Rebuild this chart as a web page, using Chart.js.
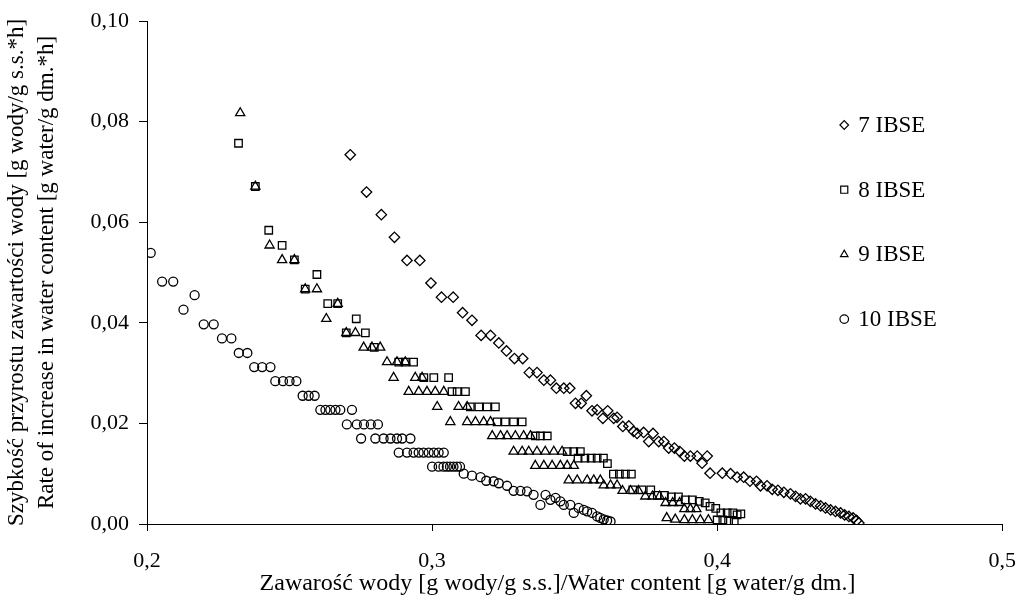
<!DOCTYPE html>
<html>
<head>
<meta charset="utf-8">
<script src="https://cdn.jsdelivr.net/npm/chart.js@4.4.0/dist/chart.umd.min.js"></script>
<style>
  body { margin: 0; background: #fff; overflow: hidden; }
  canvas { display: block; }
</style>
</head>
<body>
<canvas id="chart" width="1033" height="607"></canvas>
<script>
// axis tick labels (Polish decimal comma)
const xTickLabels = ['0,2', '0,3', '0,4', '0,5'];
const yTickLabels = ['0,00', '0,02', '0,04', '0,06', '0,08', '0,10'];

const seriesLabels = ['7 IBSE', '8 IBSE', '9 IBSE', '10 IBSE'];
const xTitle = 'Zawarość wody [g wody/g s.s.]/Water content [g water/g dm.]';
const yTitle = ['Szybkość przyrostu zawartości wody [g wody/g s.s.*h]',
                'Rate of increase in water content [g water/g dm.*h]'];

// 7 IBSE
const ibse7X = [0.2713, 0.277, 0.2822, 0.2868, 0.2912, 0.2957, 0.2996, 0.3033, 0.3074, 0.3107, 0.314, 0.3172, 0.3205, 0.3234, 0.3261, 0.3289, 0.3318, 0.3341, 0.3368, 0.3392, 0.3415, 0.3436, 0.3462, 0.3483, 0.3503, 0.3523, 0.3541, 0.3561, 0.3579, 0.3599, 0.3616, 0.3637, 0.3649, 0.3669, 0.369, 0.3707, 0.3719, 0.3742, 0.376, 0.3775, 0.3795, 0.3813, 0.383, 0.385, 0.3869, 0.3885, 0.3906, 0.393, 0.3947, 0.3965, 0.3975, 0.4018, 0.4047, 0.407, 0.4093, 0.4115, 0.4138, 0.4152, 0.4175, 0.4193, 0.4213, 0.4234, 0.4257, 0.4275, 0.4292, 0.431, 0.4327, 0.4345, 0.4363, 0.438, 0.4398, 0.4415, 0.4433, 0.4447, 0.4462, 0.4477, 0.4489, 0.4497];
const ibse7Y = [0.0734, 0.066, 0.0615, 0.057, 0.0524, 0.0524, 0.0479, 0.0451, 0.0451, 0.042, 0.0405, 0.0375, 0.0375, 0.036, 0.0344, 0.0329, 0.0329, 0.0301, 0.0301, 0.0286, 0.0286, 0.027, 0.027, 0.027, 0.024, 0.024, 0.0255, 0.0225, 0.0227, 0.021, 0.0225, 0.021, 0.0212, 0.0194, 0.0195, 0.0184, 0.018, 0.0182, 0.0164, 0.018, 0.0164, 0.0164, 0.0151, 0.0151, 0.0144, 0.0135, 0.0135, 0.0135, 0.0121, 0.0135, 0.0101, 0.0101, 0.01, 0.0093, 0.0093, 0.0085, 0.0085, 0.0076, 0.0076, 0.0069, 0.0067, 0.0063, 0.006, 0.0055, 0.005, 0.005, 0.0045, 0.004, 0.0036, 0.0032, 0.0028, 0.0025, 0.0022, 0.0018, 0.0015, 0.0012, 0.0007, 0.0002];

// 8 IBSE
const ibse8X = [0.2321, 0.238, 0.2427, 0.2474, 0.2517, 0.2555, 0.2596, 0.2634, 0.2669, 0.2734, 0.2699, 0.2766, 0.2797, 0.2883, 0.2906, 0.2935, 0.2971, 0.3006, 0.3058, 0.307, 0.3088, 0.3117, 0.3134, 0.3164, 0.3193, 0.3222, 0.3228, 0.3257, 0.3286, 0.3316, 0.3362, 0.338, 0.3404, 0.3474, 0.3497, 0.352, 0.3512, 0.3536, 0.3558, 0.3579, 0.3601, 0.3615, 0.3636, 0.3657, 0.3678, 0.3699, 0.3704, 0.3736, 0.3767, 0.379, 0.3815, 0.3839, 0.3864, 0.3888, 0.3913, 0.3937, 0.3958, 0.3975, 0.3995, 0.4013, 0.4035, 0.4055, 0.407, 0.4083, 0.4, 0.402, 0.404, 0.406];
const ibse8Y = [0.0757, 0.0671, 0.0584, 0.0554, 0.0525, 0.0467, 0.0496, 0.0438, 0.0438, 0.0408, 0.038, 0.038, 0.0351, 0.0322, 0.0322, 0.0322, 0.0291, 0.0291, 0.0291, 0.0263, 0.0263, 0.0263, 0.0233, 0.0233, 0.0233, 0.0233, 0.0203, 0.0203, 0.0203, 0.0203, 0.0175, 0.0175, 0.0175, 0.0144, 0.0144, 0.0144, 0.0131, 0.0131, 0.0131, 0.0131, 0.0131, 0.012, 0.0099, 0.0099, 0.0099, 0.0099, 0.0068, 0.0068, 0.0068, 0.0057, 0.0057, 0.0054, 0.0054, 0.0048, 0.0048, 0.0045, 0.0042, 0.0035, 0.0031, 0.0022, 0.0022, 0.0022, 0.0018, 0.002, 0.0008, 0.0008, 0.0006, 0.0005];

// 9 IBSE
const ibse9X = [0.2327, 0.238, 0.243, 0.2474, 0.2517, 0.2555, 0.2596, 0.2629, 0.2669, 0.2699, 0.2731, 0.276, 0.2789, 0.2818, 0.2842, 0.2877, 0.2906, 0.2865, 0.2941, 0.2965, 0.2918, 0.2953, 0.2982, 0.3011, 0.3041, 0.3018, 0.3093, 0.3123, 0.3064, 0.3123, 0.3152, 0.3181, 0.3205, 0.3211, 0.324, 0.3263, 0.3292, 0.3321, 0.3345, 0.3286, 0.3316, 0.3339, 0.3368, 0.3397, 0.3427, 0.3456, 0.3362, 0.3392, 0.3421, 0.345, 0.3474, 0.3497, 0.3479, 0.3509, 0.3544, 0.3567, 0.359, 0.3602, 0.3626, 0.3649, 0.3668, 0.3696, 0.3724, 0.3748, 0.3773, 0.3798, 0.3819, 0.3844, 0.3868, 0.3885, 0.3906, 0.3927, 0.3823, 0.3853, 0.3885, 0.3913, 0.3941, 0.3969];
const ibse9Y = [0.0817, 0.0671, 0.0554, 0.0525, 0.0525, 0.0467, 0.0467, 0.0408, 0.0438, 0.038, 0.038, 0.0351, 0.0351, 0.0351, 0.0322, 0.0322, 0.0322, 0.0291, 0.0291, 0.0291, 0.0263, 0.0263, 0.0263, 0.0263, 0.0263, 0.0233, 0.0233, 0.0233, 0.0203, 0.0203, 0.0203, 0.0203, 0.0203, 0.0175, 0.0175, 0.0175, 0.0175, 0.0175, 0.0175, 0.0144, 0.0144, 0.0144, 0.0144, 0.0144, 0.0144, 0.0144, 0.0116, 0.0116, 0.0116, 0.0116, 0.0116, 0.0116, 0.0087, 0.0087, 0.0087, 0.0087, 0.0087, 0.0077, 0.0077, 0.0077, 0.0066, 0.0066, 0.0066, 0.0055, 0.0055, 0.0055, 0.0042, 0.0042, 0.0042, 0.003, 0.003, 0.003, 0.0012, 0.0009, 0.0008, 0.0008, 0.0008, 0.0008];

// 10 IBSE
const ibse10X = [0.2013, 0.2053, 0.2092, 0.2128, 0.2167, 0.2199, 0.2234, 0.2263, 0.2296, 0.2322, 0.2352, 0.2376, 0.2404, 0.2433, 0.245, 0.2477, 0.25, 0.2524, 0.2546, 0.2567, 0.2588, 0.2608, 0.2626, 0.2643, 0.2661, 0.2678, 0.2719, 0.2701, 0.2736, 0.2761, 0.2785, 0.281, 0.2751, 0.2801, 0.283, 0.2854, 0.2877, 0.2895, 0.2924, 0.2883, 0.2912, 0.2935, 0.2953, 0.297, 0.2988, 0.3006, 0.3023, 0.3041, 0.3, 0.3023, 0.304, 0.3052, 0.3063, 0.3075, 0.3087, 0.3098, 0.3111, 0.314, 0.317, 0.319, 0.3216, 0.3234, 0.3263, 0.3286, 0.331, 0.3333, 0.3356, 0.338, 0.3398, 0.3415, 0.3433, 0.345, 0.3462, 0.3485, 0.3497, 0.3514, 0.3532, 0.3544, 0.3561, 0.3579, 0.359, 0.3602, 0.3614, 0.3626];
const ibse10Y = [0.0539, 0.0482, 0.0482, 0.0426, 0.0455, 0.0397, 0.0397, 0.0369, 0.0369, 0.034, 0.034, 0.0312, 0.0312, 0.0312, 0.0284, 0.0284, 0.0284, 0.0284, 0.0255, 0.0255, 0.0255, 0.0227, 0.0227, 0.0227, 0.0227, 0.0227, 0.0227, 0.0198, 0.0198, 0.0198, 0.0198, 0.0198, 0.017, 0.017, 0.017, 0.017, 0.017, 0.017, 0.017, 0.0142, 0.0142, 0.0142, 0.0142, 0.0142, 0.0142, 0.0142, 0.0142, 0.0142, 0.0114, 0.0114, 0.0114, 0.0114, 0.0114, 0.0114, 0.0114, 0.0114, 0.01, 0.0096, 0.0093, 0.0086, 0.0085, 0.0081, 0.0076, 0.0066, 0.0066, 0.0065, 0.0058, 0.0038, 0.0058, 0.0048, 0.0052, 0.0045, 0.0038, 0.0038, 0.0022, 0.0032, 0.0028, 0.0025, 0.0022, 0.0015, 0.0012, 0.0009, 0.0007, 0.0005];

function toPoints(xs, ys) {
    return xs.map((x, i) => ({ x: x, y: ys[i] }));
}

const FONT = "'Liberation Serif', 'Times New Roman', serif";

function makeSet(label, xs, ys, style, radius) {
    return {
        label: label,
        data: toPoints(xs, ys),
        pointStyle: style,
        pointRadius: radius,
        pointHoverRadius: radius,
        pointBorderWidth: 1.3,
        borderColor: '#000',
        backgroundColor: 'rgba(0,0,0,0)',
        showLine: false
    };
}

// legend inside the plot area on the right, and the x title
// (which sits a bit left of the plot centre in the original)
const sideLegend = {
    id: 'sideLegend',
    afterDraw(chart) {
        const ctx = chart.ctx;
        const area = chart.chartArea;
        const x0 = area.right - 158;
        const y0 = area.top + 104;
        const step = 64.7;
        ctx.save();
        ctx.font = '23px ' + FONT;
        ctx.textBaseline = 'middle';
        ctx.textAlign = 'left';
        chart.data.datasets.forEach((ds, i) => {
            const y = y0 + i * step;
            ctx.strokeStyle = '#000';
            ctx.fillStyle = 'rgba(0,0,0,0)';
            ctx.lineWidth = 1.2;
            Chart.helpers.drawPoint(ctx, {
                pointStyle: ds.pointStyle,
                radius: ds.pointStyle === 'rect' ? 5 : 4.3,
                rotation: 0,
                borderWidth: 1.2
            }, x0, y);
            ctx.fillStyle = '#000';
            ctx.fillText(ds.label, x0 + 14, y + 1);
        });

        ctx.font = '24px ' + FONT;
        ctx.textAlign = 'center';
        ctx.fillText(xTitle, area.left + (area.right - area.left) * 0.48, 584);
        ctx.restore();
    }
};

new Chart(document.getElementById('chart'), {
    type: 'scatter',
    data: {
        datasets: [
            makeSet(seriesLabels[0], ibse7X, ibse7Y, 'rectRot', 5.2),
            makeSet(seriesLabels[1], ibse8X, ibse8Y, 'rect', 5.3),
            makeSet(seriesLabels[2], ibse9X, ibse9Y, 'triangle', 5.3),
            makeSet(seriesLabels[3], ibse10X, ibse10Y, 'circle', 4.5)
        ]
    },
    options: {
        responsive: false,
        animation: false,
        layout: { padding: { top: 20, left: 0, right: 0, bottom: 0 } },
        plugins: {
            legend: { display: false },
            tooltip: { enabled: false }
        },
        scales: {
            x: {
                type: 'linear',
                min: 0.2,
                max: 0.5,
                afterBuildTicks: (scale) => {
                    scale.ticks = xTickLabels.map((t, i) => ({ value: 0.2 + i * 0.1 }));
                },
                afterFit: (scale) => { scale.height = 83; },
                ticks: {
                    color: '#000',
                    font: { family: FONT, size: 22 },
                    padding: 17,
                    maxRotation: 0,
                    callback: (v, i) => xTickLabels[i]
                },
                grid: { drawOnChartArea: false, drawTicks: true, tickLength: 7, color: '#000', lineWidth: 1 },
                border: { display: true, color: '#000', width: 1 },
                title: { display: false }
            },
            y: {
                type: 'linear',
                min: 0,
                max: 0.1,
                afterBuildTicks: (scale) => {
                    scale.ticks = yTickLabels.map((t, i) => ({ value: i * 0.02 }));
                },
                afterFit: (scale) => { scale.width = 147; },
                ticks: {
                    color: '#000',
                    font: { family: FONT, size: 22, lineHeight: 1.0 },
                    padding: 10,
                    callback: (v, i) => yTickLabels[i]
                },
                grid: { drawOnChartArea: false, drawTicks: true, tickLength: 8, color: '#000', lineWidth: 1 },
                border: { display: true, color: '#000', width: 1 },
                title: {
                    display: true,
                    text: yTitle,
                    color: '#000',
                    font: { family: FONT, size: 23, lineHeight: 1.3 },
                    padding: { top: 2, bottom: 0 }
                }
            }
        }
    },
    plugins: [sideLegend]
});
</script>
</body>
</html>
